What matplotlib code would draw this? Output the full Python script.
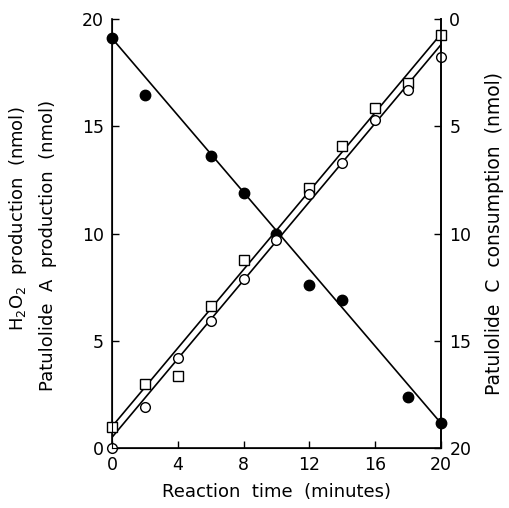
import numpy as np
import matplotlib
matplotlib.use("Agg")
import matplotlib.pyplot as plt

# reaction time (minutes)
t_c = [0, 2, 6, 8, 10, 12, 14, 18, 20]
patulolide_c = [19.1, 16.45, 13.6, 11.9, 10.0, 7.6, 6.9, 2.4, 1.15]

t_sq = [0, 2, 4, 6, 8, 12, 14, 16, 18, 20]
h2o2 = [1.0, 3.0, 3.35, 6.6, 8.75, 12.1, 14.1, 15.85, 17.0, 19.25]

t_oc = [0, 2, 4, 6, 8, 10, 12, 14, 16, 18, 20]
patulolide_a = [0.0, 1.9, 4.2, 5.9, 7.9, 9.7, 11.85, 13.3, 15.3, 16.7, 18.25]

# fitted lines (intercept, slope)
fit_c = (19.1, -0.897)
fit_sq = (1.0, 0.915)
fit_oc = (0.5, 0.915)

x_ticks = [0, 4, 8, 12, 16, 20]
y_ticks = [0, 5, 10, 15, 20]

plt.rcParams['font.family'] = 'DejaVu Sans'
fig = plt.figure(figsize=(5.1, 5.08), dpi=100)
ax = fig.add_axes([0.2196, 0.118, 0.645, 0.8446])

tt = np.array([0, 20])
for b, m in (fit_c, fit_sq, fit_oc):
    ax.plot(tt, b + m * tt, color='black', lw=1.2, zorder=2)

ax.plot(t_c, patulolide_c, 'o', color='black', ms=7.5, clip_on=False, zorder=3)
ax.plot(t_sq, h2o2, 's', mfc='white', mec='black', mew=1.0, ms=6.5, clip_on=False, zorder=3)
ax.plot(t_oc, patulolide_a, 'o', mfc='white', mec='black', mew=1.0, ms=7, clip_on=False, zorder=4)

ax.set_xlim(0, 20)
ax.set_ylim(0, 20)
ax.set_xticks(x_ticks)
ax.set_yticks(y_ticks)
ax.spines['top'].set_visible(False)
for s in ('left', 'right', 'bottom'):
    ax.spines[s].set_linewidth(1.2)
ax.tick_params(direction='in', length=5, width=1.0, labelsize=12.5, pad=6)

ax2 = ax.twinx()
ax2.set_ylim(20, 0)
ax2.set_yticks(y_ticks)
ax2.spines['top'].set_visible(False)
ax2.spines['right'].set_linewidth(1.2)
ax2.tick_params(direction='in', length=5, width=1.0, labelsize=12.5, pad=6)
ax2.set_ylabel('Patulolide  C  consumption  (nmol)', fontsize=13.5, labelpad=10)

ax.set_xlabel('Reaction  time  (minutes)', fontsize=13, labelpad=6)
fig.text(0.035, 0.57, 'H$_2$O$_2$  production  (nmol)', rotation=90,
         fontsize=13, ha='center', va='center')
fig.text(0.095, 0.517, 'Patulolide  A  production  (nmol)', rotation=90,
         fontsize=13, ha='center', va='center')

fig.savefig('out.png', dpi=100)
